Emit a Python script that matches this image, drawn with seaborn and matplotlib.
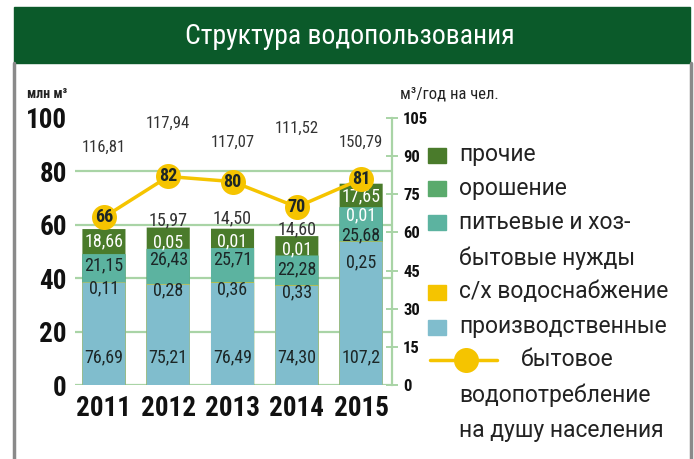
import numpy as np
import pandas as pd
import seaborn as sns
import matplotlib.pyplot as plt
from matplotlib.patches import Rectangle
from matplotlib.lines import Line2D

# данные
years = ["2011", "2012", "2013", "2014", "2015"]
production = [76.69, 75.21, 76.49, 74.30, 107.2]   # производственные
agri = [0.11, 0.28, 0.36, 0.33, 0.25]              # с/х водоснабжение
drinking = [21.15, 26.43, 25.71, 22.28, 25.68]     # питьевые и хоз-бытовые
irrigation = [0.20, 0.05, 0.01, 0.01, 0.01]        # орошение (2011 не подписан)
other = [18.66, 15.97, 14.50, 14.60, 17.65]        # прочие
totals = [116.81, 117.94, 117.07, 111.52, 150.79]
per_capita = [66, 82, 80, 70, 81]                  # м3/год на чел.
irr_labeled = [False, True, True, True, True]

# в инфографике столбики нарисованы в половинном масштабе
bar_scale = 0.5

# раскладка подписей (в единицах левой оси)
agri_off = [2.3, 2.3, 2.3, 2.3, 7.5]
drink_off = [4.0, 4.0, 4.4, 5.0, 10.4]
irr_off = [2.3, 2.3, 2.4, 2.4, -2.9]
other_off = [-4.6, 2.6, 3.9, 2.4, -4.6]
total_y = [89, 98, 91, 96, 91]

W, H = 694, 459
FONT = ["Roboto Condensed", "PT Sans Narrow", "DejaVu Sans"]
FONT_LEG = ["Roboto", "DejaVu Sans"]

sns.set_theme(style="white")
plt.rcParams["font.family"] = FONT

c_banner = "#0b5a2a"
c_other = "#4a7b2b"
c_irr = "#5aaa6c"
c_drink = "#5cb3a0"
c_agri = "#f5c400"
c_prod = "#80bdcd"
c_grid = "#a9d4a6"
c_text = "#1c2626"

fig = plt.figure(figsize=(W / 100, H / 100), dpi=100)
ax = fig.add_axes([75 / W, 74 / H, (392 - 75) / W, 267 / H])

df = pd.DataFrame({"year": years, "production": production, "agri": agri,
                   "drinking": drinking, "irrigation": irrigation, "other": other})
layers = ["production", "agri", "drinking", "irrigation", "other"]
colors = [c_prod, c_agri, c_drink, c_irr, c_other]
cum = df[layers].cumsum(axis=1) * bar_scale

# рисуем от верхнего слоя к нижнему
for layer, col in zip(layers[::-1], colors[::-1]):
    sns.barplot(x=df["year"], y=cum[layer], color=col, saturation=1,
                width=0.67, linewidth=0, snap=False, ax=ax, zorder=2)

ax.set_ylim(0, 100)
ax.set_xlim(-0.45, 4.48)
ax.set_yticks([0, 20, 40, 60, 80, 100])
ax.yaxis.grid(True, color=c_grid, lw=1.6)
ax.set_axisbelow(True)
ax.get_ygridlines()[-1].set_visible(False)
for s in ax.spines.values():
    s.set_visible(False)
ax.tick_params(axis="y", length=0, pad=6, labelsize=19.5)
ax.tick_params(axis="x", length=0, pad=7, labelsize=19.5)
for t in ax.get_yticklabels() + ax.get_xticklabels():
    t.set_fontweight("bold")
    t.set_color("#111111")
ax.set_xlabel("")
ax.set_ylabel("")


def fmt(v, nd=2):
    return f"{v:.{nd}f}".replace(".", ",")


# подписи сегментов
for i in range(len(years)):
    p_top = cum["production"][i]
    d_top = cum["drinking"][i]
    o_top = cum["other"][i]
    kw = dict(ha="center", va="center", fontsize=13, zorder=5)
    ax.text(i, 10.5, fmt(production[i], 2 if production[i] < 100 else 1), color=c_text, **kw)
    ax.text(i, p_top - agri_off[i], fmt(agri[i]), color=c_text, **kw)
    ax.text(i, d_top - drink_off[i], fmt(drinking[i]), color=c_text, **kw)
    if irr_labeled[i]:
        ax.text(i, d_top + irr_off[i], fmt(irrigation[i]), color="white", **kw)
    inside = other_off[i] < 0
    ax.text(i, o_top + other_off[i], fmt(other[i]),
            color="white" if inside else "#333333", **kw)
    ax.text(i, total_y[i], fmt(totals[i]), color="#333333", ha="center",
            va="center", fontsize=12, zorder=5)

# линия на правой оси
ax2 = ax.twinx()
sns.lineplot(x=np.arange(len(years)), y=per_capita, ax=ax2, color=c_agri,
             linewidth=2.5, marker="o", markersize=18, markeredgecolor=c_agri,
             markeredgewidth=0, zorder=6)
for i, v in enumerate(per_capita):
    ax2.text(i, v, str(v), ha="center", va="center", fontsize=13,
             fontweight="bold", color=c_text, zorder=7)
ax2.set_ylim(0, 105)
ax2.set_yticks(range(0, 106, 15))
for name, s in ax2.spines.items():
    s.set_visible(name == "right")
ax2.spines["right"].set_color(c_grid)
ax2.spines["right"].set_linewidth(1.6)
ax2.tick_params(axis="y", direction="inout", length=8, width=1.4, color=c_grid,
                labelsize=12, pad=4)
for t in ax2.get_yticklabels():
    t.set_fontweight("bold")
    t.set_color("#111111")
ax2.grid(False)
ax2.set_ylabel("")


def fx(x):
    return x / W


def fy(y):
    return 1 - y / H


# плашка заголовка и рамка
fig.patches.append(Rectangle((fx(14), fy(63)), fx(690) - fx(14), fy(7) - fy(63),
                             transform=fig.transFigure, color=c_banner, zorder=0))
fig.text(fx(350), fy(36), "Структура водопользования", color="white",
         fontsize=20, ha="center", va="center")
for x in (14, 691):
    fig.lines.append(Line2D([fx(x), fx(x)], [fy(63), 0], transform=fig.transFigure,
                            color="#8a8a8a", lw=2.5))

fig.text(fx(27), fy(94), "млн м³", fontsize=10, fontweight="bold", color="#222222",
         ha="left", va="center")
fig.text(fx(400), fy(94), "м³/год на чел.", fontsize=12, color="#222222",
         ha="left", va="center")

# легенда
LS = 16.5
lkw = dict(fontsize=LS, color="#222222", ha="left", va="center", family=FONT_LEG)
leg = [(155, c_other, "прочие"), (188, c_irr, "орошение"),
       (222, c_drink, "питьевые и хоз-"), (292, c_agri, "с/х водоснабжение"),
       (327, c_prod, "производственные")]
for y, col, lab in leg:
    fig.patches.append(Rectangle((fx(428), fy(y + 8)), fx(18), 15 / H,
                                 transform=fig.transFigure, color=col))
    fig.text(fx(459), fy(y), lab, **lkw)
fig.text(fx(459), fy(258), "бытовые нужды", **lkw)
fig.lines.append(Line2D([fx(430), fx(497)], [fy(360), fy(360)], transform=fig.transFigure,
                        color=c_agri, lw=2.5))
fig.lines.append(Line2D([fx(466)], [fy(360)], transform=fig.transFigure, marker="o",
                        markersize=18, color=c_agri, mew=0))
fig.text(fx(521), fy(360), "бытовое", **lkw)
fig.text(fx(459), fy(395), "водопотребление", **lkw)
fig.text(fx(459), fy(430), "на душу населения", **lkw)

fig.savefig("out.png", dpi=100, facecolor="white")
